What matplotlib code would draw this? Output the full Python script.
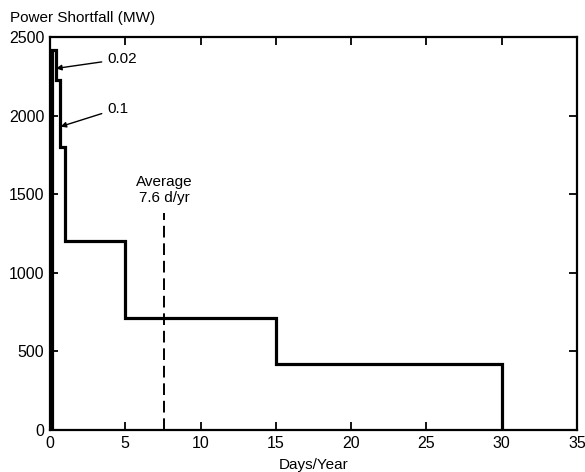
import matplotlib
matplotlib.use("Agg")
import matplotlib.pyplot as plt

plt.rcParams['font.family'] = ['Liberation Sans', 'DejaVu Sans']

# Step edges (days/year) and shortfall levels (MW)
step_days = [0.1, 0.4, 0.65, 1.0, 5.0, 15.0, 30.0]
shortfall = [2420, 2225, 1800, 1205, 710, 420]
average_days = 7.6
average_top = 1380

xticks = [0, 5, 10, 15, 20, 25, 30, 35]
yticks = [0, 500, 1000, 1500, 2000, 2500]

# Build staircase path from the data
xs = [step_days[0]]
ys = [0]
for i, level in enumerate(shortfall):
    xs += [step_days[i], step_days[i + 1]]
    ys += [level, level]
xs.append(step_days[-1])
ys.append(0)

fig = plt.figure(figsize=(5.85, 4.72), dpi=100)
ax = fig.add_axes([50 / 585, 1 - 430 / 472, 527 / 585, (430 - 37) / 472])

ax.plot(xs, ys, color='black', lw=2.3, solid_joinstyle='miter')
ax.plot([average_days, average_days], [0, average_top], color='black',
        lw=1.4, dashes=(6, 3))
ax.text(average_days, 1525, 'Average\n7.6 d/yr', ha='center', va='center',
        fontsize=11, linespacing=1.15)

ax.annotate('0.02', xy=(0.4, 2300), xytext=(3.8, 2360),
            fontsize=11, va='center', ha='left',
            arrowprops=dict(arrowstyle='-|>', color='black', lw=1.0,
                            mutation_scale=8, shrinkA=2, shrinkB=0))
ax.annotate('0.1', xy=(0.7, 1930), xytext=(3.8, 2045),
            fontsize=11, va='center', ha='left',
            arrowprops=dict(arrowstyle='-|>', color='black', lw=1.0,
                            mutation_scale=8, shrinkA=2, shrinkB=0))

ax.set_xlim(0, 35)
ax.set_ylim(0, 2500)
ax.set_xticks(xticks)
ax.set_yticks(yticks)
ax.tick_params(direction='in', top=True, right=True, length=6, width=1.3,
               labelsize=11.5, pad=4)
for s in ax.spines.values():
    s.set_linewidth(1.6)

ax.set_xlabel('Days/Year', fontsize=11, labelpad=5)
fig.text(10 / 585, 1 - 18 / 472, 'Power Shortfall (MW)', fontsize=11,
         ha='left', va='center')

fig.savefig('out.png', dpi=100)
